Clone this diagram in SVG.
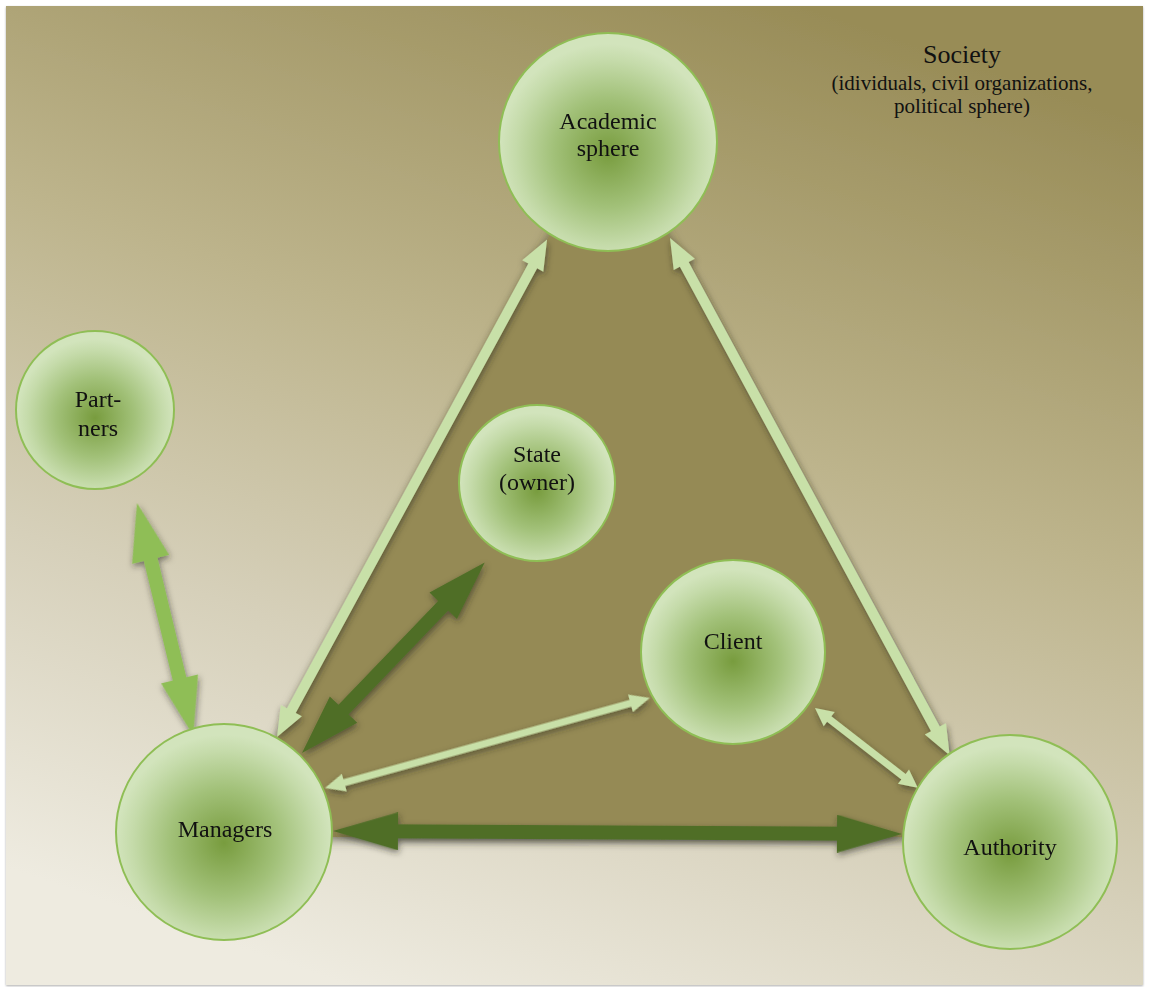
<svg xmlns="http://www.w3.org/2000/svg" width="1150" height="987" viewBox="0 0 1150 987">
<defs>
<linearGradient id="bg" x1="0.3" y1="1" x2="0.7" y2="0">
<stop offset="0" stop-color="#eeebe0"/>
<stop offset="0.3" stop-color="#d6d0ba"/>
<stop offset="0.6" stop-color="#bdb48c"/>
<stop offset="1" stop-color="#988c57"/>
</linearGradient>
<radialGradient id="ball" cx="0.5" cy="0.55" r="0.5">
<stop offset="0" stop-color="#789c3e"/>
<stop offset="0.5" stop-color="#a2c179"/>
<stop offset="0.85" stop-color="#c5dbaa"/>
<stop offset="1" stop-color="#d2e4bc"/>
</radialGradient>
<filter id="sh" x="-20%" y="-20%" width="140%" height="140%">
<feDropShadow dx="1" dy="3" stdDeviation="3" flood-color="#2a2a1a" flood-opacity="0.55"/>
</filter>
<filter id="tsh" x="-10%" y="-10%" width="120%" height="120%">
<feDropShadow dx="0" dy="2" stdDeviation="6" flood-color="#3a3a2a" flood-opacity="0.7"/>
</filter>
<filter id="bsh" x="-2%" y="-2%" width="104%" height="104%">
<feDropShadow dx="0" dy="1" stdDeviation="1" flood-color="#777" flood-opacity="0.6"/>
</filter>
</defs>
<style>
.node circle{fill:url(#ball);stroke:#8fbe55;stroke-width:2}
.lbl{font-family:"Liberation Serif","Times New Roman",serif;font-size:24px;fill:#111;text-anchor:middle}
.soc{font-family:"Liberation Serif","Times New Roman",serif;fill:#111;text-anchor:middle}
.light{fill:#c8e0a8}
.mid{fill:#8fbe57}
.dark{fill:#4f6e28}
</style>
<rect x="0" y="0" width="1150" height="987" fill="#ffffff"/>
<rect x="6" y="6" width="1137" height="979" fill="url(#bg)" filter="url(#bsh)"/>
<polygon points="609,126 222,837 995,837" fill="#958a55" filter="url(#tsh)"/>
<g id="society">
<text class="soc" x="962" y="63" font-size="26">Society</text>
<text class="soc" x="962" y="90" font-size="21">(idividuals, civil organizations,</text>
<text class="soc" x="962" y="113" font-size="21">political sphere)</text>
</g>
<g id="connectors" filter="url(#sh)">
<polygon class="light" transform="translate(277,737) rotate(-61.5)" points="0,0 30,-12 30,-5 536,-5 536,-12 566,0 536,12 536,5 30,5 30,12"/>
<polygon class="light" transform="translate(670,238) rotate(61.6)" points="0,0 30,-12 30,-5 558,-5 558,-12 588,0 558,12 558,5 30,5 30,12"/>
<polygon class="mid" transform="translate(137,503) rotate(76.4)" points="0,0 58,-19 58,-7 181,-7 181,-19 239,0 181,19 181,7 58,7 58,19"/>
<polygon class="dark" transform="translate(302,753) rotate(-46.2)" points="0,0 60,-19 60,-7 204,-7 204,-19 264,0 204,19 204,7 60,7 60,19"/>
<polygon class="light" transform="translate(325,788) rotate(-15.5)" points="0,0 20,-9 20,-3.5 317,-3.5 317,-9 337,0 317,9 317,3.5 20,3.5 20,9"/>
<polygon class="light" transform="translate(815,708) rotate(37.8)" points="0,0 18,-9 18,-3.5 112,-3.5 112,-9 130,0 112,9 112,3.5 18,3.5 18,9"/>
<polygon class="dark" transform="translate(333,831) rotate(0.3)" points="0,0 65,-19 65,-7 504,-7 504,-19 569,0 504,19 504,7 65,7 65,19"/>
</g>
<g id="academic" class="node">
<circle cx="608" cy="142" r="109"/>
<text class="lbl" x="608" y="129">Academic</text>
<text class="lbl" x="608" y="156">sphere</text>
</g>
<g id="partners" class="node">
<circle cx="95" cy="410" r="79"/>
<text class="lbl" x="98" y="407">Part-</text>
<text class="lbl" x="98" y="436">ners</text>
</g>
<g id="state" class="node">
<circle cx="537" cy="483" r="78"/>
<text class="lbl" x="537" y="462">State</text>
<text class="lbl" x="537" y="490">(owner)</text>
</g>
<g id="client" class="node">
<circle cx="733" cy="652" r="92"/>
<text class="lbl" x="733" y="649">Client</text>
</g>
<g id="managers" class="node">
<circle cx="224" cy="832" r="108"/>
<text class="lbl" x="225" y="837">Managers</text>
</g>
<g id="authority" class="node">
<circle cx="1010" cy="842" r="107"/>
<text class="lbl" x="1010" y="855">Authority</text>
</g>
</svg>
